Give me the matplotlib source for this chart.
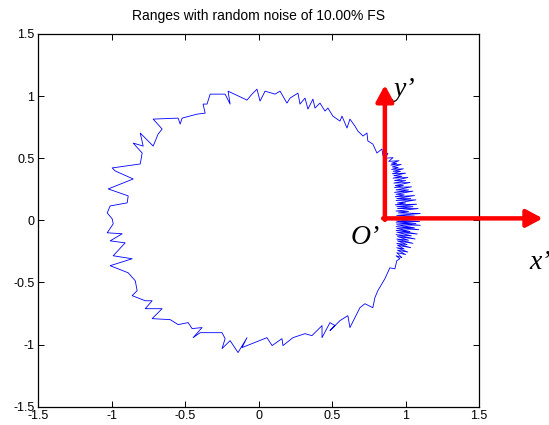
import numpy as np
import matplotlib.pyplot as plt

plt.rcParams['axes.unicode_minus'] = False
plt.rcParams['font.family'] = ['Liberation Sans', 'DejaVu Sans']

# noisy range outline, counter-clockwise
# dense patch just right of O' (upper half)
fan_up_x = [0.935, 1.095, 0.945, 1.06, 0.94, 1.10, 0.95, 1.02, 0.935, 1.085,
            0.945, 1.05, 0.94, 1.075, 0.93, 1.00, 0.945, 1.07, 0.935, 1.035,
            0.94, 1.06, 0.93, 0.99, 0.935, 1.05, 0.925, 1.02, 0.935, 1.04,
            0.925, 0.985, 0.93, 1.03, 0.92, 1.00, 0.925, 1.015, 0.915, 0.975,
            0.92, 1.00, 0.91, 0.965, 0.915, 0.985, 0.905, 0.95, 0.91, 0.97,
            0.90, 0.94, 0.905, 0.955, 0.885, 0.915, 0.862, 0.88, 0.846]
fan_up_y = [0.005, 0.015, 0.022, 0.035, 0.04, 0.055, 0.06, 0.07, 0.075, 0.095,
            0.095, 0.11, 0.11, 0.13, 0.125, 0.14, 0.14, 0.165, 0.16, 0.175,
            0.175, 0.20, 0.19, 0.205, 0.21, 0.235, 0.225, 0.245, 0.245, 0.27,
            0.265, 0.28, 0.28, 0.305, 0.30, 0.32, 0.32, 0.345, 0.34, 0.355,
            0.36, 0.38, 0.375, 0.395, 0.395, 0.415, 0.41, 0.425, 0.43, 0.45,
            0.445, 0.46, 0.46, 0.48, 0.475, 0.505, 0.50, 0.54, 0.52]

# the rest of the ring: top, left side, bottom
rim_x = [0.839, 0.805, 0.777, 0.743, 0.737, 0.710, 0.675, 0.655, 0.621, 0.601,
         0.567, 0.553, 0.505, 0.471, 0.451, 0.417, 0.383, 0.369, 0.335, 0.315,
         0.281, 0.267, 0.213, 0.192, 0.145, 0.111, 0.043, 0.009, -0.012, -0.046,
         -0.080, -0.209, -0.195, -0.229, -0.331, -0.352, -0.379, -0.365, -0.420, -0.522,
         -0.535, -0.549, -0.719, -0.658, -0.685, -0.719, -0.807, -0.787, -0.855, -0.794,
         -0.807, -0.998, -0.978, -0.855, -1.025, -0.889, -0.896, -1.012, -1.032, -0.998,
         -0.991, -1.032, -0.930, -1.012, -0.910, -0.991, -0.862, -1.012, -0.889, -0.841,
         -0.828, -0.862, -0.773, -0.726, -0.773, -0.658, -0.726, -0.603, -0.549, -0.481,
         -0.454, -0.386, -0.447, -0.399, -0.250, -0.229, -0.250, -0.195, -0.141, -0.080,
         -0.114, 0.056, 0.091, 0.158, 0.165, 0.233, 0.315, 0.362, 0.431, 0.431,
         0.485, 0.519, 0.485, 0.553, 0.607, 0.621, 0.689, 0.723, 0.777, 0.791,
         0.811, 0.859, 0.893, 0.927, 0.940, 0.961]
rim_y = [0.574, 0.542, 0.614, 0.639, 0.703, 0.679, 0.719, 0.759, 0.815, 0.743,
         0.839, 0.799, 0.839, 0.904, 0.880, 0.944, 0.904, 0.976, 0.896, 0.984,
         0.936, 1.024, 0.984, 0.944, 1.040, 1.016, 1.040, 0.960, 1.056, 1.016,
         0.968, 1.040, 0.936, 1.016, 1.016, 0.936, 0.936, 0.863, 0.855, 0.823,
         0.775, 0.823, 0.815, 0.735, 0.695, 0.598, 0.703, 0.598, 0.622, 0.542,
         0.454, 0.422, 0.398, 0.333, 0.253, 0.197, 0.141, 0.116, 0.060, 0.012,
         -0.028, -0.100, -0.108, -0.165, -0.181, -0.285, -0.309, -0.365, -0.422, -0.486,
         -0.566, -0.606, -0.647, -0.647, -0.711, -0.711, -0.791, -0.799, -0.839, -0.823,
         -0.871, -0.863, -0.944, -0.904, -0.904, -0.952, -1.032, -0.968, -1.064, -0.944,
         -1.024, -0.944, -1.008, -0.952, -1.008, -0.944, -0.912, -0.928, -0.847, -0.944,
         -0.823, -0.847, -0.888, -0.807, -0.767, -0.863, -0.703, -0.671, -0.703, -0.622,
         -0.566, -0.470, -0.382, -0.390, -0.325, -0.309]

# dense patch just right of O' (lower half)
fan_low_x = [0.935, 0.975, 0.94, 1.0, 0.945, 1.015, 0.94, 0.99, 0.945, 1.035,
             0.94, 1.01, 0.945, 1.05, 0.94, 1.02, 0.945, 1.065, 0.935, 1.04,
             0.94, 1.08, 0.935, 1.03, 0.94, 1.09, 0.935, 1.06, 0.94, 1.10,
             0.935, 1.07, 0.94, 1.095]
fan_low_y = [-0.285, -0.30, -0.26, -0.275, -0.24, -0.255, -0.22, -0.23, -0.20, -0.22,
             -0.185, -0.195, -0.165, -0.185, -0.15, -0.16, -0.13, -0.15, -0.115, -0.125,
             -0.095, -0.11, -0.08, -0.09, -0.065, -0.075, -0.05, -0.06, -0.035, -0.04,
             -0.02, -0.025, -0.008, -0.01]

# local frame drawn on top
origin = (0.859, 0.016)
x_tip = (1.934, 0.016)
y_tip = (0.859, 1.089)

ticks = [-1.5, -1, -0.5, 0, 0.5, 1, 1.5]
tick_labels = ['-1.5', '-1', '-0.5', '0', '0.5', '1', '1.5']

xs = fan_up_x + rim_x + fan_low_x + fan_up_x[:1]
ys = fan_up_y + rim_y + fan_low_y + fan_up_y[:1]

fig = plt.figure(figsize=(5.49, 4.25), dpi=100)
ax = fig.add_axes([0.0701, 0.043, 0.8024, 0.877])

ax.plot(xs, ys, color='#0000ff', lw=0.6)

ax.set_xlim(-1.5, 1.5)
ax.set_ylim(-1.5, 1.5)
ax.set_xticks(ticks)
ax.set_xticklabels(tick_labels)
ax.set_yticks(ticks)
ax.set_yticklabels(tick_labels)
ax.tick_params(direction='in', length=4, width=0.7, labelsize=9,
               top=True, right=True, pad=2)
ax.tick_params(axis='y', pad=3)
for s in ax.spines.values():
    s.set_linewidth(0.9)

ax.set_title('Ranges with random noise of 10.00% FS', fontsize=10, pad=10)

aprops = dict(arrowstyle='-|>,head_length=0.65,head_width=0.35', color='red',
              lw=3.2, mutation_scale=15, shrinkA=0, shrinkB=0)
ax.annotate('', xy=x_tip, xytext=(origin[0] - 0.012, origin[1]),
            arrowprops=aprops, annotation_clip=False, zorder=5)
ax.annotate('', xy=y_tip, xytext=(origin[0], origin[1] - 0.012),
            arrowprops=aprops, annotation_clip=False, zorder=5)

tfont = dict(family='Liberation Serif', style='italic', fontsize=20)
ax.text(0.989, 1.05, "y\u2019", ha='center', va='center', **tfont)
ax.text(0.724, -0.14, "O\u2019", ha='center', va='center', **tfont)
ax.text(1.846, -0.336, "x\u2019", ha='left', va='center', clip_on=False, **tfont)

fig.savefig('out.png', dpi=100)
